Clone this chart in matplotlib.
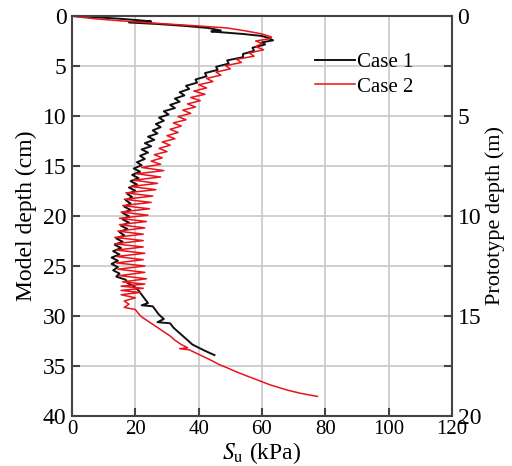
import matplotlib
matplotlib.use('Agg')

import matplotlib.pyplot as plt
from matplotlib.ticker import MultipleLocator

plt.rcParams['font.family'] = ['Liberation Serif', 'DejaVu Serif']
plt.rcParams['mathtext.fontset'] = 'stix'

# Case 1 (black): model depth (cm) and S_u (kPa)
case1_depth = [0.0, 0.1, 0.25, 0.45, 0.55, 0.65, 0.8, 1.0, 1.2, 1.45, 1.55, 1.8, 2.0,
               2.2, 2.43, 2.64, 2.85, 3.17, 3.49, 3.8, 4.12, 4.44, 4.76, 5.08, 5.39,
               5.71, 6.03, 6.35, 6.67, 6.98, 7.3, 7.62, 7.94, 8.26, 8.57, 8.89, 9.21,
               9.53, 9.85, 10.16, 10.48, 10.8, 11.12, 11.44, 11.75, 12.07, 12.39, 12.71,
               13.03, 13.34, 13.66, 13.98, 14.3, 14.62, 14.93, 15.25, 15.57, 15.89,
               16.21, 16.52, 16.84, 17.16, 17.48, 17.8, 18.11, 18.43, 18.75, 19.07,
               19.39, 19.7, 20.02, 20.34, 20.66, 20.98, 21.29, 21.61, 21.93, 22.25,
               22.57, 22.88, 23.2, 23.52, 23.84, 24.16, 24.47, 24.79, 25.11, 25.43,
               25.75, 26.06, 26.38, 26.7, 27.02, 27.44, 27.87, 28.29, 28.71, 28.93,
               29.03, 29.46, 29.88, 30.3, 30.62, 30.73, 31.15, 31.58, 32.0, 32.42,
               32.85, 33.17, 33.48, 33.7, 33.91]
case1_su = [0, 6, 14, 22, 25, 18, 27, 36, 43, 47, 44, 54, 60,
            62, 63.5, 60, 61, 57, 57.5, 54, 54, 49, 49.5, 45.5, 46,
            42, 42.5, 39, 39.5, 36, 37, 34, 35.5, 32.5, 34, 31, 32.5,
            29, 30.5, 27.5, 29, 26.5, 28, 25.5, 27, 24, 26, 23,
            25, 22, 24, 21.5, 23, 20.5, 22, 19.5, 21.5, 19,
            21, 18.5, 20.5, 18, 20, 17.5, 19, 17, 18.5, 16.5,
            18.5, 16, 18, 16, 18, 15.5, 17.5, 15, 16.5, 14,
            16, 13.5, 15.5, 13, 15, 12.5, 14.5, 12.5, 14.5, 13,
            15, 14, 17, 17.5, 19.5, 21, 22, 23, 24, 22,
            25.5, 26.5, 27.5, 29, 27, 31, 32, 33.5, 35, 36.5,
            38, 40, 42, 43.5, 45]

# Case 2 (red)
case2_depth = [0.0, 0.1, 0.3, 0.5, 0.8, 1.0, 1.2, 1.5, 1.8, 2.1, 2.3, 2.5, 2.74,
               3.06, 3.38, 3.7, 4.02, 4.33, 4.65, 4.97, 5.29, 5.61, 5.92, 6.24, 6.56,
               6.88, 7.2, 7.51, 7.83, 8.15, 8.47, 8.79, 9.1, 9.42, 9.74, 10.06, 10.38,
               10.69, 11.01, 11.33, 11.65, 11.97, 12.28, 12.6, 12.92, 13.24, 13.56,
               13.87, 14.19, 14.51, 14.83, 15.15, 15.46, 15.78, 16.1, 16.42, 16.74,
               17.05, 17.37, 17.69, 18.01, 18.33, 18.64, 18.96, 19.28, 19.6, 19.92,
               20.23, 20.55, 20.87, 21.19, 21.51, 21.82, 22.14, 22.46, 22.78, 23.1,
               23.41, 23.73, 24.05, 24.37, 24.69, 25.0, 25.32, 25.64, 25.96, 26.28,
               26.59, 26.81, 27.02, 27.23, 27.44, 27.65, 27.87, 28.18, 28.5, 28.82,
               29.14, 29.35, 29.77, 30.09, 30.41, 30.73, 31.15, 31.58, 32.0, 32.42,
               32.85, 33.17, 33.27, 33.38, 33.91, 34.44, 34.86, 35.18, 35.6, 36.03,
               36.45, 36.88, 37.41, 37.72, 38.04]
case2_su = [0, 2, 8, 16, 30, 40, 49, 55, 60, 63, 62, 58, 60,
            58, 60.5, 56, 57.5, 52, 53.5, 48.5, 50, 45.5, 47, 42.5, 44.5,
            40, 42.5, 38.5, 42, 37.5, 40.5, 36.5, 39, 35, 37.5, 33.5, 36,
            32, 34.5, 31, 33.5, 30, 32.5, 28.5, 31, 27.5, 30,
            26, 28.5, 25, 28, 22, 29, 20.5, 28, 19.5, 27,
            18.5, 26.5, 17, 25.5, 16.5, 25, 16, 24.5, 15.5, 24,
            15, 23.5, 15, 23, 14.5, 22.5, 13.5, 22.5, 13.5, 22.5,
            14, 23, 14, 22.5, 14, 23, 14.5, 23, 15, 23.5,
            16, 23, 15.5, 22.5, 15.5, 21.5, 15.5, 20, 16.5, 18,
            16.5, 20, 21, 22, 23.5, 25, 27, 29, 31, 32.5,
            34.5, 36.5, 34, 37, 40.5, 44, 46.5, 49, 52, 55.5,
            59, 62.5, 68, 72, 77.5]

fig = plt.figure(figsize=(5.12, 4.66), dpi=100)
ax = fig.add_axes([0.1406, 0.1073, 0.7422, 0.8584])

ax.plot(case1_su, case1_depth, color='#111111', lw=1.4, label='Case 1')
ax.plot(case2_su, case2_depth, color='#e8131b', lw=1.1, label='Case 2')

ax.set_xlim(0, 120)
ax.set_ylim(40, 0)
ax.xaxis.set_major_locator(MultipleLocator(20))
ax.yaxis.set_major_locator(MultipleLocator(5))
ax.grid(True, color='#c8c8c8', lw=1.2)
ax.set_axisbelow(True)
ax.tick_params(direction='in', length=6, width=1.5, color='#444444')
ax.tick_params(axis='x', labelsize=15, pad=3)
ax.tick_params(axis='y', labelsize=17, pad=4)
for sp in ax.spines.values():
    sp.set_linewidth(1.5)
    sp.set_color('#444444')

ax.set_xlabel(r'$S_\mathrm{u}$ (kPa)', fontsize=17, labelpad=1)
ax.set_ylabel('Model depth (cm)', fontsize=17, labelpad=4)

ax2 = ax.twinx()
ax2.set_ylim(20, 0)
ax2.yaxis.set_major_locator(MultipleLocator(5))
ax2.yaxis.set_minor_locator(MultipleLocator(2.5))
ax2.tick_params(which='both', direction='in', length=6, width=1.5, labelsize=17,
                color='#444444', pad=4)
for sp in ax2.spines.values():
    sp.set_visible(False)
ax2.set_ylabel('Prototype depth (m)', fontsize=16, labelpad=3)

ax.legend(loc='upper right', bbox_to_anchor=(0.92, 0.93), frameon=False,
          fontsize=15, handlelength=1.9, handletextpad=0.1, labelspacing=0.25,
          borderaxespad=0)

fig.savefig('out.png', dpi=100)
